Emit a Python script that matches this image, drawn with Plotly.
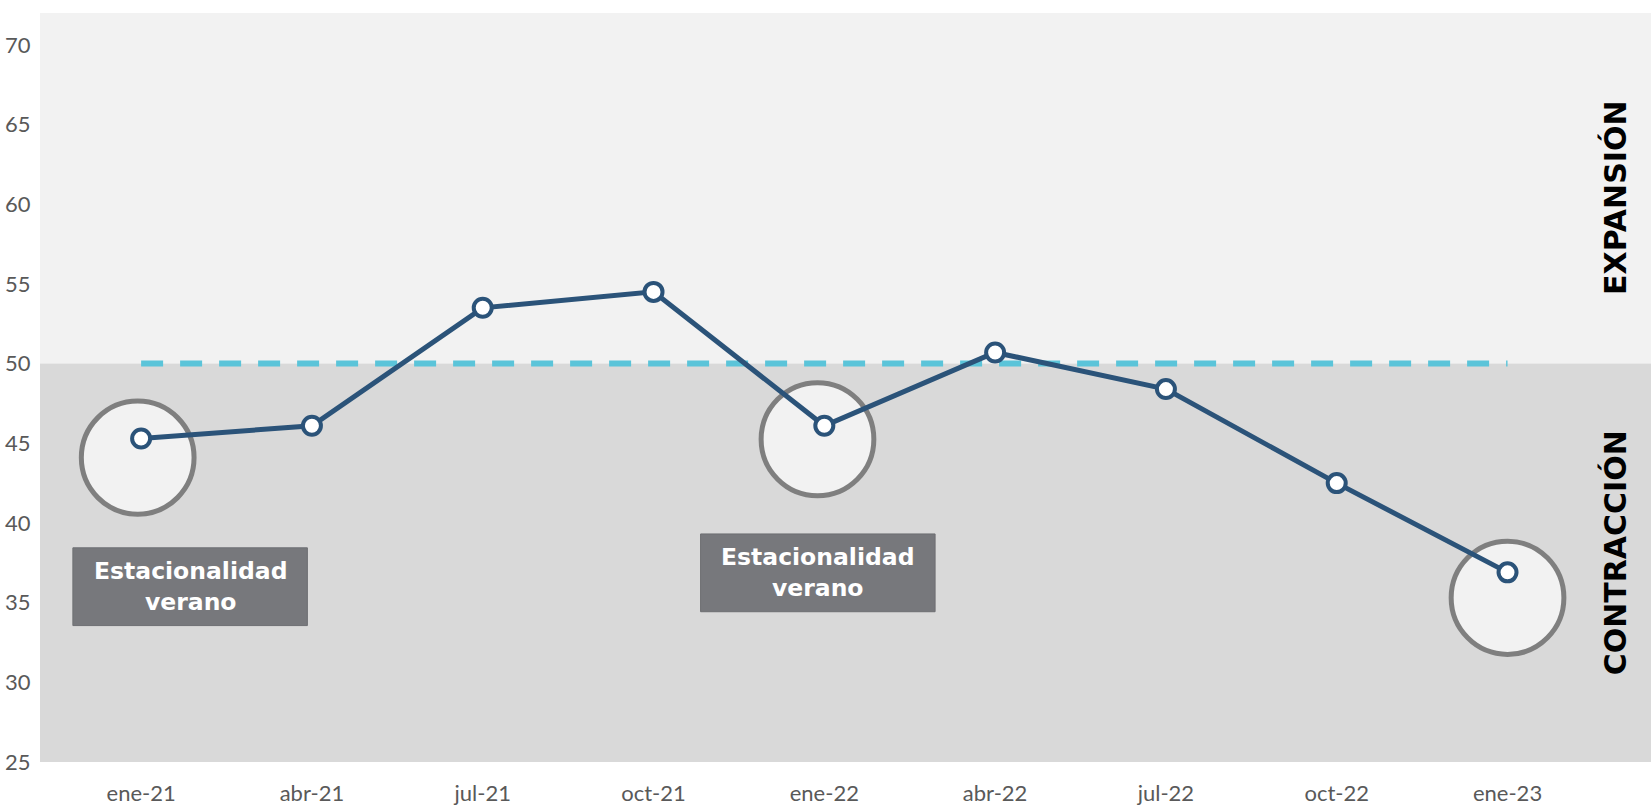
import plotly.graph_objects as go

categories = ["ene-21", "abr-21", "jul-21", "oct-21", "ene-22", "abr-22", "jul-22", "oct-22", "ene-23"]
values = [45.3, 46.1, 53.5, 54.5, 46.1, 50.7, 48.4, 42.5, 36.9]
threshold = 50
y_ticks = [25, 30, 35, 40, 45, 50, 55, 60, 65, 70]
highlight_idx = [0, 4, 8]
box_labels = ["Estacionalidad<br>verano", "Estacionalidad<br>verano"]
zone_labels = ["EXPANSIÓN", "CONTRACCIÓN"]

idx = list(range(len(categories)))
YMIN, YMAX = 25, 72
XMIN, XMAX = -0.592, 8.84

fig = go.Figure()

# threshold dashed line
fig.add_trace(go.Scatter(
    x=[idx[0], idx[-1]], y=[threshold, threshold], mode="lines",
    line=dict(color="#5BC4D9", width=6, dash="22px,17px"),
    hoverinfo="skip", showlegend=False))

shapes = [
    dict(type="rect", xref="x domain", yref="y", x0=0, x1=1, y0=threshold, y1=YMAX,
         fillcolor="#F2F2F2", line_width=0, layer="below"),
    dict(type="rect", xref="x domain", yref="y", x0=0, x1=1, y0=YMIN, y1=threshold,
         fillcolor="#D9D9D9", line_width=0, layer="below"),
]

# highlight circles (offset relative to the data points)
circle_offsets = [(-0.02, -1.2), (-0.04, -0.85), (0.0, -1.6)]
rx, ry = 0.33, 3.55
for i, (dx, dy) in zip(highlight_idx, circle_offsets):
    cx, cy = idx[i] + dx, values[i] + dy
    shapes.append(dict(type="circle", xref="x", yref="y",
                       x0=cx - rx, x1=cx + rx, y0=cy - ry, y1=cy + ry,
                       fillcolor="#F2F2F2", line=dict(color="#7F7F7F", width=5),
                       layer="below"))

# label boxes
box_pos = [(0.287, 36.0), (3.962, 36.87)]
bw, bh = 1.373, 4.88
annotations = []
for (bx, by), txt in zip(box_pos, box_labels):
    shapes.append(dict(type="rect", xref="x", yref="y",
                       x0=bx - bw / 2, x1=bx + bw / 2, y0=by - bh / 2, y1=by + bh / 2,
                       fillcolor="#77787C", line=dict(color="#6E6F73", width=1),
                       layer="above"))
    annotations.append(dict(x=bx, y=by, xref="x", yref="y", text="<b>" + txt + "</b>",
                            showarrow=False, font=dict(family="DejaVu Sans", size=23.5, color="white"),
                            align="center"))

for txt, yy in zip(zone_labels, [60.4, 38.1]):
    annotations.append(dict(x=8.63, y=yy, xref="x", yref="y", text="<b>" + txt + "</b>",
                            showarrow=False, textangle=-90,
                            font=dict(family="DejaVu Sans", size=30, color="#000000")))

fig.add_trace(go.Scatter(
    x=idx, y=values, mode="lines+markers",
    line=dict(color="#2B5379", width=5),
    marker=dict(size=18, color="white", line=dict(color="#2B5379", width=4)),
    showlegend=False))

fig.update_layout(
    width=1651, height=805,
    margin=dict(l=40, r=0, t=13, b=43),
    paper_bgcolor="white", plot_bgcolor="white",
    shapes=shapes, annotations=annotations,
    showlegend=False,
    xaxis=dict(range=[XMIN, XMAX], tickmode="array", tickvals=idx, ticktext=categories,
               showgrid=False, zeroline=False, showline=False,
               ticks="outside", ticklen=12, tickcolor="rgba(0,0,0,0)",
               tickfont=dict(family="Lato", size=22, color="#595959")),
    yaxis=dict(range=[YMIN, YMAX], tickmode="array", tickvals=y_ticks,
               showgrid=False, zeroline=False, showline=False,
               ticks="outside", ticklen=4, tickcolor="rgba(0,0,0,0)",
               tickfont=dict(family="Lato", size=22, color="#595959")),
)

fig.write_html("out.html", config={"displayModeBar": False},
               post_script="document.body.style.margin='0';document.body.style.overflow='hidden';")
